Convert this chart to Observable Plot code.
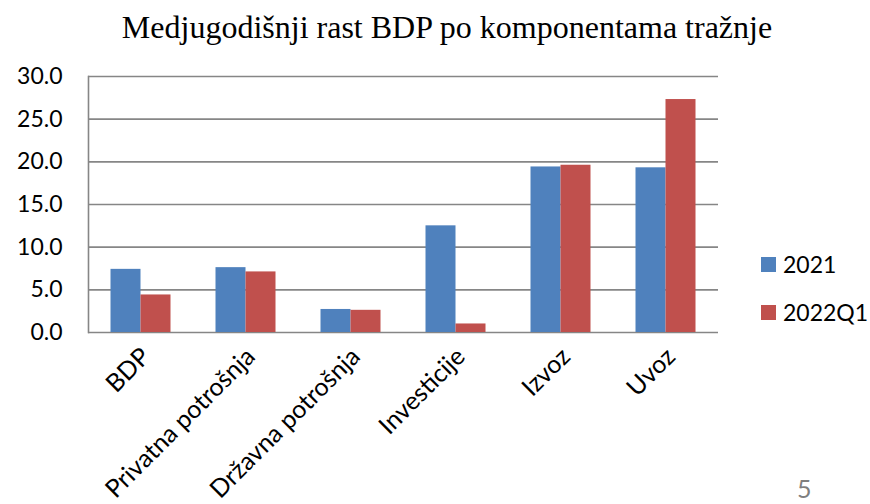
<!DOCTYPE html>
<html>
<head>
<meta charset="utf-8">
<script src="https://cdn.jsdelivr.net/npm/d3@7"></script>
<script src="https://cdn.jsdelivr.net/npm/@observablehq/plot@0.6"></script>
<style>
  html, body { margin: 0; padding: 0; background: #fff; }
  #wrap { position: relative; width: 870px; height: 504px; overflow: hidden; }
  #title { position: absolute; left: 0; top: 9px; width: 894px; text-align: center; line-height: 36px;
           font-family: "Liberation Serif", "Times New Roman", serif; font-size: 32px; color: #000; }
  .leg { position: absolute; left: 761px; font-family: Lato, sans-serif; font-size: 23px; color: #000;
         display: flex; align-items: center; gap: 7px; line-height: 28px; }
  .sw { width: 15px; height: 15px; display: inline-block; }
  #page { position: absolute; left: 797px; top: 474px; line-height: 28px; font-family: Lato, sans-serif; font-size: 25px; color: #7f7f7f; }
</style>
</head>
<body>
<div id="wrap">
  <div id="title">Medjugodišnji rast BDP po komponentama tražnje</div>
  <div id="chart"></div>
  <div id="legend"></div>
  <div id="page">5</div>
</div>
<script>
const categories = ["BDP", "Privatna potrošnja", "Državna potrošnja", "Investicije", "Izvoz", "Uvoz"];
const series = ["2021", "2022Q1"];
const values2021 = [7.4, 7.6, 2.7, 12.5, 19.4, 19.3];
const values2022Q1 = [4.4, 7.1, 2.6, 1.0, 19.6, 27.3];
const yTicks = [0, 5, 10, 15, 20, 25, 30];
const colors = ["#4F81BD", "#C0504D"];

const rows2021 = categories.map((c, i) => ({category: c, series: series[0], value: values2021[i]}));
const rows2022 = categories.map((c, i) => ({category: c, series: series[1], value: values2022Q1[i]}));

const font = "Lato, sans-serif";
const chart = Plot.plot({
  width: 870,
  height: 504,
  marginLeft: 88,
  marginRight: 152,
  marginTop: 76,
  marginBottom: 172,
  style: {fontFamily: font, background: "transparent"},
  x: {domain: categories, padding: 0, label: null},
  y: {domain: [0, 30], label: null},
  color: {domain: series, range: colors},
  marks: [
    Plot.ruleY(yTicks, {stroke: "#868686", strokeWidth: 1.6}),
    Plot.frame({anchor: "left", stroke: "#868686", strokeWidth: 1.6}),
    Plot.barY(rows2021, {x: "category", y: "value", fill: "series", insetLeft: 22.5, insetRight: 52.5}),
    Plot.barY(rows2022, {x: "category", y: "value", fill: "series", insetLeft: 52.5, insetRight: 22.5}),
    Plot.axisY({ticks: yTicks, tickFormat: d3.format(".1f"), tickSize: 0, tickPadding: 26, fontSize: 23, fill: "#000"}),
    Plot.axisX({tickSize: 0, tickPadding: 20, tickRotate: -45, fontSize: 25, fill: "#000", dx: 5})
  ]
});
document.getElementById("chart").appendChild(chart);

const legend = document.getElementById("legend");
series.forEach((s, i) => {
  const d = document.createElement("div");
  d.className = "leg";
  d.style.top = (250 + i * 48) + "px";
  d.innerHTML = `<span class="sw" style="background:${colors[i]}"></span><span>${s}</span>`;
  legend.appendChild(d);
});
</script>
</body>
</html>
